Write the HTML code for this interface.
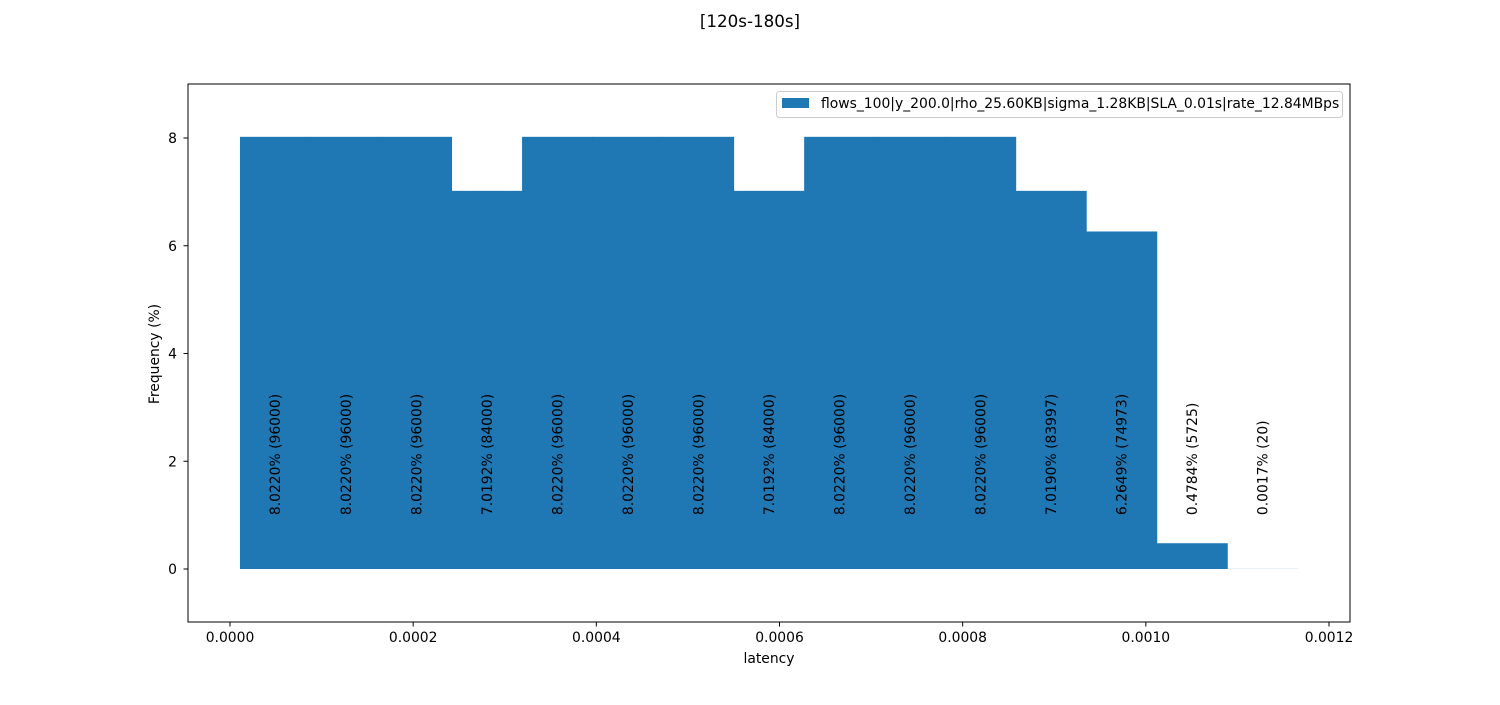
<!DOCTYPE html>
<html><head><meta charset="utf-8"><style>
body{margin:0;background:#fff;}
svg text{font-family:"DejaVu Sans","Liberation Sans",sans-serif;fill:#000;}
</style></head><body>
<svg width="1500" height="700" xmlns="http://www.w3.org/2000/svg">
<rect width="1500" height="700" fill="#fff"/>
<text x="750" y="27" text-anchor="middle" font-size="16.7">[120s-180s]</text>
<g id="bars"></g>
<g id="labels"></g>
<g id="xticks"></g>
<g id="yticks"></g>
<rect x="188" y="84" width="1162" height="538" fill="none" stroke="#000" stroke-width="1"/>
<text x="769" y="663" text-anchor="middle" font-size="13.9">latency</text>
<text x="0" y="0" transform="translate(159,354) rotate(-90)" text-anchor="middle" font-size="13.9">Frequency (%)</text>
<g>
<rect x="776.5" y="91.5" width="566" height="26" rx="3" fill="#fff" stroke="#ccc"/>
<rect x="782" y="98" width="27" height="10" fill="#1f77b4"/>
<text x="821" y="108" font-size="13.9">flows_100|y_200.0|rho_25.60KB|sigma_1.28KB|SLA_0.01s|rate_12.84MBps</text>
</g>
</svg>
<script>
const binStart = 0.0000109;
const binWidth = 0.0000770;
const freqs = [8.022,8.022,8.022,7.0192,8.022,8.022,8.022,7.0192,8.022,8.022,8.022,7.019,6.2649,0.4784,0.0017];
const labels = ["8.0220% (96000)","8.0220% (96000)","8.0220% (96000)","7.0192% (84000)","8.0220% (96000)","8.0220% (96000)","8.0220% (96000)","7.0192% (84000)","8.0220% (96000)","8.0220% (96000)","8.0220% (96000)","7.0190% (83997)","6.2649% (74973)","0.4784% (5725)","0.0017% (20)"];
const xTicks = [0,0.0002,0.0004,0.0006,0.0008,0.0010,0.0012];
const xTickLabels = ["0.0000","0.0002","0.0004","0.0006","0.0008","0.0010","0.0012"];
const yTicks = [0,2,4,6,8];
const labelY = 1;
const NS="http://www.w3.org/2000/svg";
const X = v => 230 + v*(1099/0.0012);
const Y = v => 569 - v*53.875;
const mk=(t,a,p)=>{const e=document.createElementNS(NS,t);for(const k in a)e.setAttribute(k,a[k]);p.appendChild(e);return e;};
const bars=document.getElementById('bars'), lab=document.getElementById('labels');
freqs.forEach((f,i)=>{
  const x0=X(binStart+i*binWidth), x1=X(binStart+(i+1)*binWidth);
  const r=mk('rect',{x:x0,y:Y(Math.max(f,0)),width:x1-x0+0.5,height:Y(0)-Y(f),fill:'#1f77b4'},bars);
  
  
  const cx=(x0+x1)/2+5, cy=Y(labelY);
  const t=mk('text',{x:0,y:0,transform:`translate(${cx},${cy}) rotate(-90)`,'font-size':'13.9'},lab);
  t.textContent=labels[i];
  
  
});
const xg=document.getElementById('xticks');
xTicks.forEach((v,i)=>{
  const x=X(v);
  const l=mk('line',{x1:x,x2:x,y1:622,y2:626.5,stroke:'#000'},xg);
  
  
  const t=mk('text',{x:x,y:642,'text-anchor':'middle','font-size':'13.9'},xg);
  t.textContent=xTickLabels[i];
  
  
});
const yg=document.getElementById('yticks');
yTicks.forEach(v=>{
  const y=Y(v);
  const l=mk('line',{x1:183.5,x2:188,y1:y,y2:y,stroke:'#000'},yg);
  
  
  const t=mk('text',{x:177,y:y+5,'text-anchor':'end','font-size':'13.9'},yg);
  t.textContent=String(v);
  
  
});
</script>
</body></html>
